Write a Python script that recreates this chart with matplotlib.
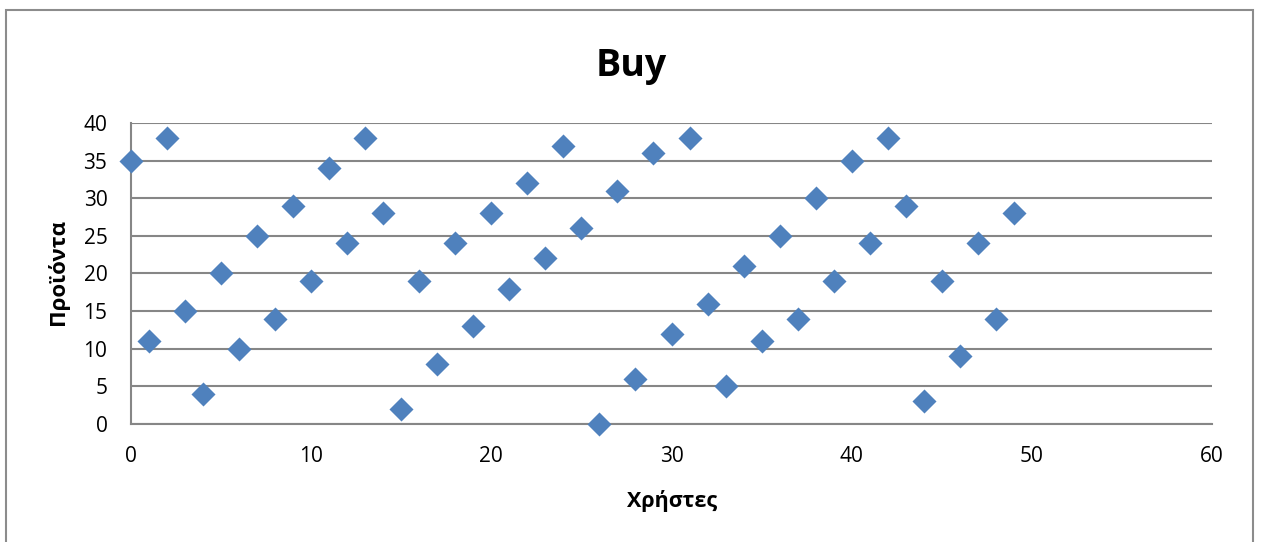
import matplotlib
matplotlib.use("Agg")
import matplotlib.pyplot as plt
from matplotlib.patches import Rectangle

# users (x) and purchased products (y)
users = list(range(50))
products = [35, 11, 38, 15, 4, 20, 10, 25, 14, 29,
            19, 34, 24, 38, 28, 2, 19, 8, 24, 13,
            28, 18, 32, 22, 37, 26, 0, 31, 6, 36,
            12, 38, 16, 5, 21, 11, 25, 14, 30, 19,
            35, 24, 38, 29, 3, 19, 9, 24, 14, 28]

x_ticks = [0, 10, 20, 30, 40, 50, 60]
y_ticks = [0, 5, 10, 15, 20, 25, 30, 35, 40]

GRID = "#868686"
BLUE = "#4F81BD"

plt.rcParams["font.family"] = ["Open Sans", "DejaVu Sans"]

fig = plt.figure(figsize=(12.62, 5.42), dpi=100)
fig.patches.append(Rectangle((6 / 1262, -0.01), 1247 / 1262, 1 - 10 / 542 + 0.01,
                             transform=fig.transFigure, fill=False,
                             ec="#8c8c8c", lw=1.5))

ax = fig.add_axes([131 / 1262, 118 / 542, 1081 / 1262, 301 / 542])
ax.scatter(users, products, marker="D", s=150, color=BLUE, zorder=3,
           clip_on=False, linewidths=0)

ax.set_xlim(0, 60)
ax.set_ylim(0, 40)
ax.set_xticks(x_ticks)
ax.set_yticks(y_ticks)
ax.tick_params(length=0, labelsize=15)
ax.tick_params(axis="y", pad=17)
ax.tick_params(axis="x", pad=16)
ax.grid(axis="y", color=GRID, lw=1.5)
ax.set_axisbelow(True)
for side in ("top", "right"):
    ax.spines[side].set_visible(False)
for side in ("left", "bottom"):
    ax.spines[side].set_color(GRID)
    ax.spines[side].set_linewidth(1.5)

fig.text(0.5, 1 - 66 / 542, "Buy", ha="center", va="center",
         fontsize=27, fontweight="bold")
fig.text(627 / 1262 + 45 / 1262, 1 - 501 / 542, "Χρήστες", ha="center",
         va="center", fontsize=15.5, fontweight="bold")
fig.text(58 / 1262, 1 - 272 / 542, "Προϊόντα", ha="center", va="center",
         rotation=90, fontsize=16, fontweight="bold")

fig.savefig("out.png", dpi=100)
